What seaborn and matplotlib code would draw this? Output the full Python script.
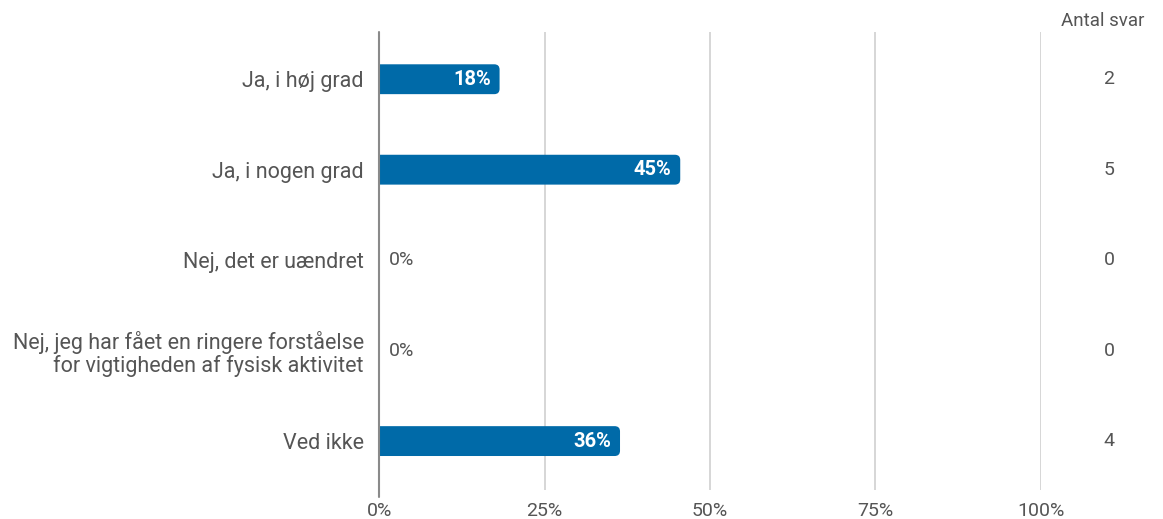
import matplotlib
matplotlib.use("Agg")
import matplotlib.pyplot as plt
from matplotlib.patches import FancyBboxPatch
import pandas as pd
import seaborn as sns

categories = [
    "Ja, i høj grad",
    "Ja, i nogen grad",
    "Nej, det er uændret",
    "Nej, jeg har fået en ringere forståelse\nfor vigtigheden af fysisk aktivitet",
    "Ved ikke",
]
percent = [18.2, 45.5, 0.0, 0.0, 36.4]
pct_labels = ["18%", "45%", "0%", "0%", "36%"]
counts = [2, 5, 0, 0, 4]
x_ticks = [0, 25, 50, 75, 100]

bar_color = "#006aa8"
text_color = "#555555"

sns.set_theme(style="white")
plt.rcParams["font.family"] = ["Roboto", "DejaVu Sans"]

df = pd.DataFrame({"Kategori": categories, "Procent": percent})

fig = plt.figure(figsize=(11.63, 5.19), dpi=100)
ax = fig.add_axes([0.326, 0.056, 0.569, 0.882])

sns.barplot(data=df, x="Procent", y="Kategori", color=bar_color,
            width=0.33, saturation=1, ax=ax, zorder=3)

ax.set_xlim(0, 100)
ax.set_ylim(4.54, -0.52)

# swap plain bars for bars with rounded right ends
px_x = 0.569 * 1163 / 100          # pixels per percent
px_y = 0.882 * 519 / 5.06          # pixels per category
for patch in list(ax.patches):
    x0, y0 = patch.get_x(), patch.get_y()
    w, h = patch.get_width(), patch.get_height()
    patch.remove()
    if w <= 0:
        continue
    rounded = FancyBboxPatch(
        (x0 - 2, y0), w + 2, h,
        boxstyle="round,pad=0,rounding_size=0.8",
        mutation_aspect=px_x / px_y,
        facecolor=bar_color, edgecolor="none", zorder=3,
    )
    ax.add_patch(rounded)
    rounded.set_clip_path(ax.patch)

ax.set_xticks(x_ticks)
ax.set_xticklabels([f"{t}%" for t in x_ticks], size=14, color=text_color)
ax.tick_params(axis="x", length=0, pad=9)
ax.tick_params(axis="y", length=0, pad=11)
ax.set_yticklabels(categories, size=15.5, color=text_color, ha="right",
                   multialignment="right", linespacing=1.1)
ax.set_xlabel("")
ax.set_ylabel("")

for x in x_ticks[1:]:
    ax.axvline(x, color="#d0d0d0", lw=1.2, zorder=1)
ax.axvline(0, color="#8a8a8a", lw=1.5, ymin=-0.015, zorder=4, clip_on=False)
for s in ax.spines.values():
    s.set_visible(False)

for i, (p, lab) in enumerate(zip(percent, pct_labels)):
    if p > 0:
        ax.text(p - 1.3, i, lab, ha="right", va="center", color="white",
                fontsize=14.5, fontweight="bold", zorder=5)
    else:
        ax.text(1.5, i, lab, ha="left", va="center", color=text_color,
                fontsize=14, zorder=5)

trans = ax.get_yaxis_transform()
for i, c in enumerate(counts):
    ax.text(1.103, i, str(c), transform=trans,
            ha="center", va="center", color=text_color, fontsize=14)
fig.text(0.948, 0.96, "Antal svar", ha="center", va="center",
         color=text_color, fontsize=13.5)

fig.savefig("out.png", dpi=100)
